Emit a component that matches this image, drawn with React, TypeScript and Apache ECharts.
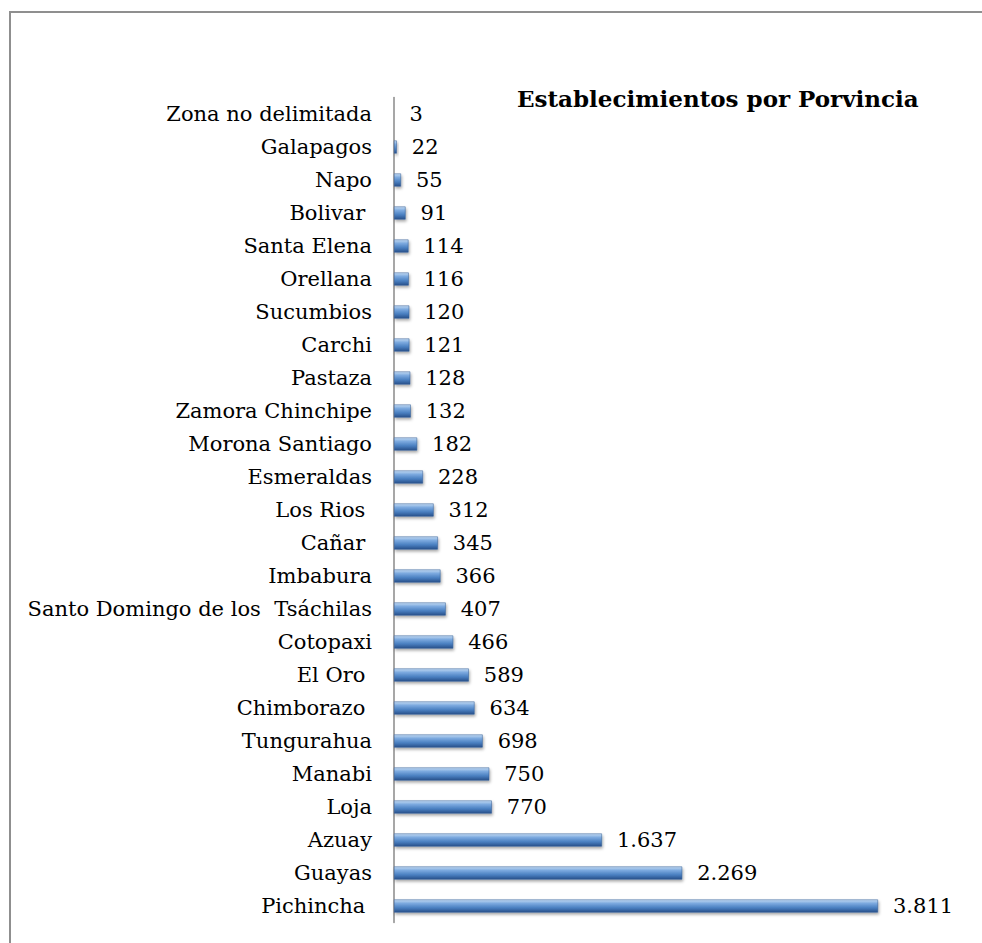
import React, { useEffect, useRef } from "react";
import * as echarts from "echarts";

const categories = [
  "Zona no delimitada",
  "Galapagos",
  "Napo",
  "Bolivar ",
  "Santa Elena",
  "Orellana",
  "Sucumbios",
  "Carchi",
  "Pastaza",
  "Zamora Chinchipe",
  "Morona Santiago",
  "Esmeraldas",
  "Los Rios ",
  "Cañar ",
  "Imbabura",
  "Santo Domingo de los  Tsáchilas",
  "Cotopaxi",
  "El Oro ",
  "Chimborazo ",
  "Tungurahua",
  "Manabi",
  "Loja",
  "Azuay",
  "Guayas",
  "Pichincha ",
];
const values = [3, 22, 55, 91, 114, 116, 120, 121, 128, 132, 182, 228, 312, 345, 366, 407, 466, 589, 634, 698, 750, 770, 1637, 2269, 3811];
const titleText = "Establecimientos por Porvincia";

const fmt = (v: number) => String(v).replace(/\B(?=(\d{3})+(?!\d))/g, ".");

export default function App() {
  const ref = useRef<HTMLDivElement>(null);
  useEffect(() => {
    const chart = echarts.init(ref.current!, null, { renderer: "svg" });
    chart.setOption({
      animation: false,
      backgroundColor: "#ffffff",
      title: {
        text: titleText,
        left: 512,
        top: 82,
        textStyle: { fontFamily: "DejaVu Serif", fontSize: 23, fontWeight: "bold", color: "#000" },
      },
      graphic: [
        {
          type: "rect",
          shape: { x: 10, y: 12, width: 990, height: 950 },
          style: { fill: "none", stroke: "#8f8f8f", lineWidth: 2 },
          silent: true,
        },
      ],
      grid: { left: 394, top: 97.5, width: 571.5, height: 825 },
      xAxis: {
        type: "value",
        min: 0,
        max: 4500,
        show: false,
        splitLine: { show: false },
      },
      yAxis: {
        type: "category",
        data: categories,
        inverse: true,
        axisLine: { show: true, lineStyle: { color: "#8a8a8a", width: 1.5 } },
        axisTick: { show: false },
        axisLabel: {
          margin: 22,
          fontFamily: "DejaVu Serif",
          fontSize: 21,
          color: "#000",
        },
      },
      series: [
        {
          type: "bar",
          data: values,
          barWidth: 13,
          itemStyle: {
            color: new echarts.graphic.LinearGradient(0, 0, 0, 1, [
              { offset: 0, color: "#c4daf3" },
              { offset: 0.3, color: "#7aa8de" },
              { offset: 0.65, color: "#4a7fc0" },
              { offset: 1, color: "#28508a" },
            ]),
            borderColor: "#2f5a92",
            borderWidth: 0.5,
            shadowColor: "rgba(0,0,0,0.35)",
            shadowBlur: 3,
            shadowOffsetY: 2,
            shadowOffsetX: 1,
          },
          label: {
            show: true,
            position: "right",
            distance: 15,
            fontFamily: "DejaVu Serif",
            fontSize: 21,
            color: "#000",
            formatter: (p: any) => fmt(p.value),
          },
        },
      ],
    });
    return () => chart.dispose();
  }, []);
  return (
    <div
      ref={ref}
      style={{ position: "fixed", left: 0, top: 0, width: 982, height: 943 }}
    />
  );
}
